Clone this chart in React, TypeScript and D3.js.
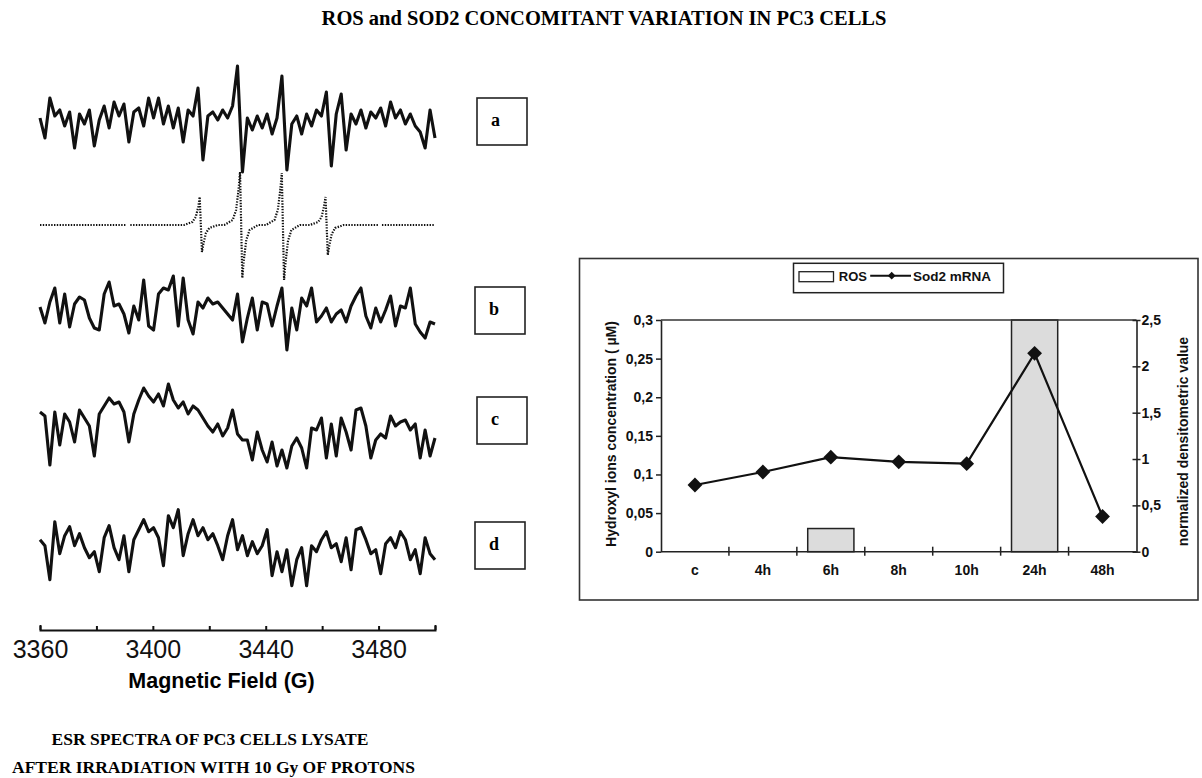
import React, { useEffect, useRef } from "react";
import * as d3 from "d3";

// ---- ESR spectra (left panel) ----
// field grid: 3360 G .. 3500 G, one reading every 1.75 G
const FIELD_START = 3360;
const FIELD_STEP = 1.75;

// intensities (arbitrary units, positive = up)
const spectrumA = [
  2, -18, 22, 4, 10, -6, 8, -28, 6, -4,
  10, -26, 0, 14, -8, 18, 4, 16, -22, 8,
  12, -6, 22, 2, 22, -4, 14, -8, 12, -22,
  10, 4, 32, -40, 4, 8, 0, 10, 2, 14,
  54, -52, 2, -10, 4, -8, 6, -14, 2, 44,
  -50, -4, 4, -14, 6, -6, 10, 4, 28, -46,
  6, 26, -30, 6, -4, 10, -8, 8, 2, 12,
  -6, 18, 2, 10, -4, 6, -6, -12, -28, 10,
  -18,
];
const spectrumB = [
  3, -13, 8, 22, -13, 16, -17, 6, 13, 10,
  -8, -18, -20, 16, 28, 4, 6, -4, -23, 4,
  -10, 30, -16, -20, 16, 22, 20, 34, -16, 32,
  -10, -24, 8, 2, 12, 6, 8, 2, -4, -10,
  16, -32, -8, 12, -20, 8, 6, -16, 4, 22,
  -40, 2, -20, 12, 4, 22, -12, -6, 2, -12,
  -4, 0, -12, 4, 14, 22, -6, -18, 2, -12,
  0, 14, -16, 4, 2, 22, -14, -22, -28, -12,
  -14,
];
const spectrumC = [
  8, 4, -45, 8, -25, 6, -2, -22, 10, 2,
  -6, -36, 6, 14, 22, 16, 18, 8, -22, 6,
  20, 32, 24, 18, 26, 14, 36, 20, 12, 18,
  6, 14, 10, 2, -6, -12, -4, -16, -8, 10,
  -14, -20, -20, -40, -12, -30, -42, -22, -46, -30,
  -48, -26, -18, -28, -48, -8, -10, 2, -38, -4,
  -36, 2, -12, -30, 10, 12, -6, -38, -20, -14,
  -18, 4, -6, -2, 0, -10, -4, -38, -10, -36,
  -18,
];
const spectrumD = [
  2, -4, -38, 20, -12, 6, 15, -4, 8, -6,
  -16, -10, -30, 4, 16, -6, -18, 6, -30, 2,
  12, 22, 10, 14, 4, -24, 26, 14, 32, -14,
  8, 22, 6, 14, 2, 8, -4, -18, 6, 22,
  -8, 6, -14, 0, -12, -4, 12, -34, -10, -30,
  -8, -44, -18, -6, -44, -4, -10, 2, 10, -6,
  -2, -20, 4, -28, 12, 14, 2, -12, -8, -32,
  -2, 4, -6, 10, 2, -18, -8, -32, 4, -12,
  -18,
];

// simulated DMPO-OH quartet (dotted), NaN = small break in the dotted line
const simField = [
  3360, 3390.6, 3391.3, 3392, 3411, 3414, 3415.2, 3416.1, 3416.6, 3417.4,
  3417.9, 3418.8, 3420, 3423, 3425.3, 3428.3, 3429.5, 3430.4, 3430.9, 3431.7,
  3432.2, 3433.1, 3434.3, 3437.3, 3440.1, 3443.1, 3444.3, 3445.2, 3445.7, 3446.5,
  3447, 3447.9, 3449.1, 3452.1, 3455.6, 3458.6, 3459.8, 3460.7, 3461.2, 3462,
  3462.5, 3463.4, 3464.6, 3467.6, 3479.8, 3480.5, 3481.2, 3500,
];
const simValue = [
  0, 0, NaN, 0, 0, 3, 8, 18, 28, -27,
  -19, -8, -3, 0, 0, 5, 15, 36, 53, -53,
  -36, -15, -5, 0, 0, 5, 15, 36, 52, -55,
  -38, -16, -5, 0, 0, 3, 8, 19, 28, -30,
  -21, -9, -3, 0, 0, NaN, 0, 0,
];

const fieldTicks = [3360, 3380, 3400, 3420, 3440, 3460, 3480, 3500];
const fieldLabels = [3360, 3400, 3440, 3480];
const panelLetters = ["a", "b", "c", "d"];

// ---- time course (right panel) ----
const timePoints = ["c", "4h", "6h", "8h", "10h", "24h", "48h"];
const rosValues = [0, 0, 0.03, 0, 0, 0.31, 0];
const sod2Values = [0.72, 0.86, 1.02, 0.97, 0.95, 2.14, 0.38];
const rosTicks = [0, 0.05, 0.1, 0.15, 0.2, 0.25, 0.3];
const sodTicks = [0, 0.5, 1, 1.5, 2, 2.5];

const SANS = "'Liberation Sans', Arial, sans-serif";
const SERIF = "'Liberation Serif', 'Times New Roman', serif";

export default function App() {
  const ref = useRef<SVGSVGElement>(null);

  useEffect(() => {
    const svg = d3.select(ref.current);
    svg.selectAll("*").remove();

    // title
    svg
      .append("text")
      .attr("x", 604)
      .attr("y", 25)
      .attr("text-anchor", "middle")
      .attr("font-family", SERIF)
      .attr("font-weight", "bold")
      .attr("font-size", 20.5)
      .text("ROS and SOD2 CONCOMITANT VARIATION IN PC3 CELLS");

    // ===== ESR panel =====
    const xEsr = d3.scaleLinear().domain([3360, 3500]).range([40, 435]);
    const yEsr = d3.scaleLinear().domain([-60, 60]).range([60, -60]);
    const fieldAt = (i) => FIELD_START + i * FIELD_STEP;

    const trace = d3
      .line<number>()
      .x((d, i) => xEsr(fieldAt(i)))
      .y((d) => yEsr(d));

    const baselines = [120, 310, 420, 541.7];
    const spectra = [spectrumA, spectrumB, spectrumC, spectrumD];

    spectra.forEach((s, k) => {
      svg
        .append("path")
        .datum(s)
        .attr("transform", `translate(0,${baselines[k]})`)
        .attr("d", trace)
        .attr("fill", "none")
        .attr("stroke", "#111")
        .attr("stroke-width", 3.1)
        .attr("stroke-linejoin", "round");
    });

    // simulated spectrum (dotted)
    const simLine = d3
      .line<number>()
      .defined((d) => !isNaN(d))
      .x((d, i) => xEsr(simField[i]))
      .y((d) => yEsr(d));
    svg
      .append("path")
      .datum(simValue)
      .attr("transform", "translate(0,225)")
      .attr("d", simLine)
      .attr("fill", "none")
      .attr("stroke", "#111")
      .attr("stroke-width", 2.2)
      .attr("stroke-dasharray", "1.4,1.4");

    // panel letter boxes
    const boxLeft = [477, 475, 477, 475];
    const boxTop = [98, 287, 397, 522];
    panelLetters.forEach((l, k) => {
      svg
        .append("rect")
        .attr("x", boxLeft[k])
        .attr("y", boxTop[k])
        .attr("width", 50)
        .attr("height", 47)
        .attr("fill", "white")
        .attr("stroke", "#222")
        .attr("stroke-width", 1.6);
      svg
        .append("text")
        .attr("x", boxLeft[k] + 14)
        .attr("y", boxTop[k] + 27.5)
        .attr("font-family", SERIF)
        .attr("font-weight", "bold")
        .attr("font-size", 18)
        .text(l);
    });

    // field axis
    const gx = svg
      .append("g")
      .attr("transform", "translate(0,630)")
      .call(
        d3
          .axisBottom(xEsr)
          .tickValues(fieldTicks)
          .tickSizeInner(-4)
          .tickSizeOuter(-5)
          .tickPadding(10)
          .tickFormat((d) => (fieldLabels.includes(+d) ? String(d) : ""))
      );
    gx.select(".domain").attr("stroke", "#111").attr("stroke-width", 2);
    gx.selectAll(".tick line").attr("stroke", "#111").attr("stroke-width", 2);
    gx.selectAll(".tick text")
      .attr("font-family", SANS)
      .attr("font-size", 25)
      .attr("fill", "#111");

    svg
      .append("text")
      .attr("x", 221.5)
      .attr("y", 688)
      .attr("text-anchor", "middle")
      .attr("font-family", SANS)
      .attr("font-weight", "bold")
      .attr("font-size", 21.5)
      .text("Magnetic Field (G)");

    svg
      .append("text")
      .attr("x", 210)
      .attr("y", 745)
      .attr("text-anchor", "middle")
      .attr("font-family", SERIF)
      .attr("font-weight", "bold")
      .attr("font-size", 17.5)
      .text("ESR SPECTRA OF PC3 CELLS LYSATE");
    svg
      .append("text")
      .attr("x", 213.5)
      .attr("y", 773)
      .attr("text-anchor", "middle")
      .attr("font-family", SERIF)
      .attr("font-weight", "bold")
      .attr("font-size", 17.5)
      .text("AFTER IRRADIATION WITH 10 Gy OF PROTONS");

    // ===== time-course chart =====
    const left = 661;
    const right = 1136.5;
    const top = 320;
    const bottom = 551.7;

    svg
      .append("rect")
      .attr("x", 579.5)
      .attr("y", 258.5)
      .attr("width", 618.5)
      .attr("height", 341.5)
      .attr("fill", "white")
      .attr("stroke", "#333")
      .attr("stroke-width", 1.6);

    const x = d3.scaleBand().domain(timePoints).range([left, right]).padding(0);
    const yL = d3.scaleLinear().domain([0, 0.3]).range([bottom, top]).clamp(true);
    const yR = d3.scaleLinear().domain([0, 2.5]).range([bottom, top]);
    const comma = (d) => String(d).replace(".", ",");

    // ROS bars
    const bw = x.bandwidth() * 0.68;
    svg
      .append("g")
      .selectAll("rect")
      .data(timePoints.map((t, i) => ({ t, v: rosValues[i] })).filter((d) => d.v > 0))
      .join("rect")
      .attr("x", (d) => x(d.t) + (x.bandwidth() - bw) / 2)
      .attr("width", bw)
      .attr("y", (d) => yL(d.v))
      .attr("height", (d) => bottom - yL(d.v))
      .attr("fill", "#dcdcdc")
      .attr("stroke", "#222")
      .attr("stroke-width", 1.5);

    // plot top border
    svg
      .append("line")
      .attr("x1", left)
      .attr("x2", right)
      .attr("y1", top)
      .attr("y2", top)
      .attr("stroke", "#333")
      .attr("stroke-width", 1.5);

    // left axis
    const gl = svg
      .append("g")
      .attr("transform", `translate(${left},0)`)
      .call(d3.axisLeft(yL).tickValues(rosTicks).tickSize(5).tickSizeOuter(0).tickPadding(3).tickFormat(comma));
    // right axis
    const gr = svg
      .append("g")
      .attr("transform", `translate(${right},0)`)
      .call(d3.axisRight(yR).tickValues(sodTicks).tickSize(4).tickSizeOuter(0).tickPadding(1).tickFormat(comma));
    gr.selectAll(".tick line").attr("x1", -4);

    [gl, gr].forEach((g) => {
      g.select(".domain").attr("stroke", "#222").attr("stroke-width", 1.6);
      g.selectAll(".tick line").attr("stroke", "#222").attr("stroke-width", 1.5);
      g.selectAll(".tick text")
        .attr("font-family", SANS)
        .attr("font-weight", "bold")
        .attr("font-size", 14)
        .attr("fill", "#111");
    });

    // category axis
    const gb = svg.append("g");
    gb.append("line")
      .attr("x1", left)
      .attr("x2", right)
      .attr("y1", bottom)
      .attr("y2", bottom)
      .attr("stroke", "#222")
      .attr("stroke-width", 1.6);
    gb.selectAll("line.cat")
      .data(timePoints.slice(1))
      .join("line")
      .attr("class", "cat")
      .attr("x1", (d) => x(d))
      .attr("x2", (d) => x(d))
      .attr("y1", bottom - 5)
      .attr("y2", bottom + 4)
      .attr("stroke", "#222")
      .attr("stroke-width", 1.5);
    gb.selectAll("text")
      .data(timePoints)
      .join("text")
      .attr("x", (d) => x(d) + x.bandwidth() / 2)
      .attr("y", 575)
      .attr("text-anchor", "middle")
      .attr("font-family", SANS)
      .attr("font-weight", "bold")
      .attr("font-size", 14)
      .attr("fill", "#111")
      .text((d) => d);

    // Sod2 line + markers
    const cx = (i) => x(timePoints[i]) + x.bandwidth() / 2;
    const sodLine = d3
      .line<number>()
      .x((d, i) => cx(i))
      .y((d) => yR(d));
    svg
      .append("path")
      .datum(sod2Values)
      .attr("d", sodLine)
      .attr("fill", "none")
      .attr("stroke", "#111")
      .attr("stroke-width", 2.2);
    const diamond = d3.symbol(d3.symbolSquare, 110)();
    svg
      .append("g")
      .selectAll("path")
      .data(sod2Values)
      .join("path")
      .attr("d", diamond)
      .attr("transform", (d, i) => `translate(${cx(i)},${yR(d)}) rotate(45)`)
      .attr("fill", "#111");

    // axis titles
    svg
      .append("text")
      .attr("transform", "translate(611,434) rotate(-90)")
      .attr("text-anchor", "middle")
      .attr("dy", "0.35em")
      .attr("font-family", SANS)
      .attr("font-weight", "bold")
      .attr("font-size", 14)
      .attr("fill", "#111")
      .text("Hydroxyl ions concentration ( \u00b5M)");
    svg
      .append("text")
      .attr("transform", "translate(1183,441.5) rotate(-90)")
      .attr("text-anchor", "middle")
      .attr("dy", "0.35em")
      .attr("font-family", SANS)
      .attr("font-weight", "bold")
      .attr("font-size", 14)
      .attr("fill", "#111")
      .text("normalized densitometric value");

    // legend
    const lg = svg.append("g");
    lg.append("rect")
      .attr("x", 793.5)
      .attr("y", 263.3)
      .attr("width", 210)
      .attr("height", 29.4)
      .attr("fill", "white")
      .attr("stroke", "#222")
      .attr("stroke-width", 1.5);
    lg.append("rect")
      .attr("x", 799)
      .attr("y", 271.7)
      .attr("width", 34.5)
      .attr("height", 10)
      .attr("fill", "white")
      .attr("stroke", "#222")
      .attr("stroke-width", 1.3);
    lg.append("text")
      .attr("x", 838.8)
      .attr("y", 281)
      .attr("font-family", SANS)
      .attr("font-weight", "bold")
      .attr("font-size", 13)
      .attr("fill", "#111")
      .text("ROS");
    lg.append("line")
      .attr("x1", 870.2)
      .attr("x2", 911)
      .attr("y1", 275.7)
      .attr("y2", 275.7)
      .attr("stroke", "#111")
      .attr("stroke-width", 2);
    lg.append("path")
      .attr("d", d3.symbol(d3.symbolSquare, 30)())
      .attr("transform", "translate(891.7,275.7) rotate(45)")
      .attr("fill", "#111");
    lg.append("text")
      .attr("x", 913)
      .attr("y", 281)
      .attr("font-family", SANS)
      .attr("font-weight", "bold")
      .attr("font-size", 13.5)
      .attr("fill", "#111")
      .text("Sod2 mRNA");
  }, []);

  return (
    <div style={{ position: "absolute", left: 0, top: 0 }}>
      <svg ref={ref} width={1202} height={778} style={{ display: "block", background: "white" }}></svg>
    </div>
  );
}
